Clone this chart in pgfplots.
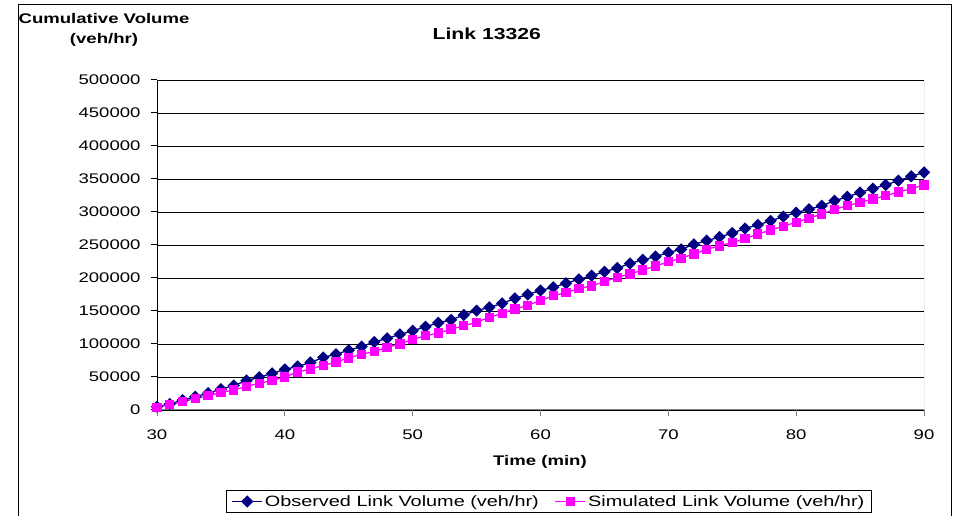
\documentclass[border=0pt]{standalone}
\usepackage{pgfplots}
\pgfplotsset{compat=1.18}
\usepackage{fontspec}
\setmainfont{Liberation Sans}[FakeStretch=1.33]

\definecolor{obsnavy}{RGB}{0,0,128}
\definecolor{simpink}{RGB}{255,0,255}
\definecolor{frameGray}{RGB}{128,128,128}

% Cumulative link volumes, one row per minute
\pgfplotstableread{
t obs
30 5000
31 9000
32 15000
33 20000
34 25500
35 31500
36 37000
37 44500
38 49500
39 55500
40 61500
41 66000
42 72000
43 79500
44 84500
45 90500
46 96000
47 103000
48 108500
49 114500
50 120000
51 126000
52 132000
53 136500
54 144000
55 150500
56 155500
57 161500
58 169000
59 175000
60 181000
61 186000
62 192000
63 198000
64 203500
65 209500
66 215000
67 222000
68 227500
69 232500
70 238500
71 243500
72 251000
73 256500
74 262000
75 268000
76 275000
77 280500
78 286500
79 293000
80 299000
81 304000
82 309500
83 317000
84 323000
85 329500
86 335500
87 341000
88 347500
89 354000
90 360000
}\observed

\pgfplotstableread{
t sim
30 4000
31 8000
32 12500
33 17500
34 21500
35 26500
36 30500
37 35500
38 40500
39 44500
40 50000
41 57500
42 62000
43 67500
44 72500
45 79000
46 84500
47 88500
48 95000
49 100000
50 107000
51 112500
52 116500
53 122500
54 127500
55 133000
56 140500
57 146500
58 153000
59 158500
60 166000
61 173000
62 178000
63 184000
64 188000
65 194500
66 201000
67 206000
68 212000
69 218000
70 224500
71 230000
72 236500
73 243500
74 248500
75 254000
76 259500
77 266500
78 272500
79 278500
80 284500
81 290500
82 297000
83 304000
84 309500
85 314500
86 319500
87 324500
88 330500
89 335000
90 341000
}\simulated

\begin{document}
\begin{tikzpicture}[x=1bp,y=1bp]
\useasboundingbox (0,0) rectangle (956,516);
\draw[black, line width=1bp] (18,-30) -- (18,511) -- (951,511) -- (951,-30);
\begin{axis}[
  at={(157bp,106bp)}, anchor=south west,
  scale only axis, width=767bp, height=330bp,
  xmin=30, xmax=90, ymin=0, ymax=500000,
  xtick={30,40,50,60,70,80,90},
  ytick={0,50000,100000,150000,200000,250000,300000,350000,400000,450000,500000},
  scaled y ticks=false,
  /pgf/number format/fixed,
  /pgf/number format/set thousands separator={},
  /pgf/number format/assume math mode=true,
  axis x line*=bottom, axis y line*=left,
  x axis line style={draw=frameGray, line width=1bp},
  y axis line style={draw=black, line width=1bp},
  tick align=outside, major tick length=6bp,
  xtick style={draw=frameGray, line width=1bp},
  ytick style={draw=black, line width=1bp},
  ymajorgrids, major grid style={draw=black, line width=0.9bp},
  tick label style={font=\fontsize{14}{16}\selectfont},
  yticklabel style={xshift=-7bp},
  xticklabel style={yshift=-10bp},
  title={\textbf{Link 13326}},
  title style={at={(0.430,1.121)}, anchor=center, font=\fontsize{16}{18}\selectfont},
  xlabel={\textbf{Time (min)}},
  xlabel style={at={(0.4993,-0.1576)}, anchor=center, font=\fontsize{14}{16}\selectfont},
  ylabel={\textbf{Cumulative Volume}\\\textbf{(veh/hr)}},
  ylabel style={rotate=-90, at={(-0.0691,1.1515)}, anchor=center, align=center,
    font=\fontsize{14}{20}\selectfont},
  legend style={at={(0.511,-0.2424)}, anchor=north, legend columns=2,
    draw=black, line width=0.8bp, font=\fontsize{15}{17}\selectfont,
    inner xsep=5bp, inner ysep=3bp,
    /tikz/every even column/.append style={column sep=14bp}},
  legend image code/.code={\draw[mark repeat=2,mark phase=2]
    plot coordinates {(0bp,0bp)(15bp,0bp)(30bp,0bp)};},
]
\addplot[obsnavy, line width=1.3bp, mark=square*, mark size=3.7bp,
  mark options={rotate=45, solid, fill=obsnavy}] table[x=t, y=obs] {\observed};
\addlegendentry{Observed Link Volume (veh/hr)}
\addplot[simpink, line width=1.3bp, mark=square*, mark size=4bp,
  mark options={solid, fill=simpink}] table[x=t, y=sim] {\simulated};
\addlegendentry{Simulated Link Volume (veh/hr)}
\draw[frameGray, line width=1bp] (rel axis cs:1,0) -- (rel axis cs:1,1);
\end{axis}
\end{tikzpicture}
\end{document}
